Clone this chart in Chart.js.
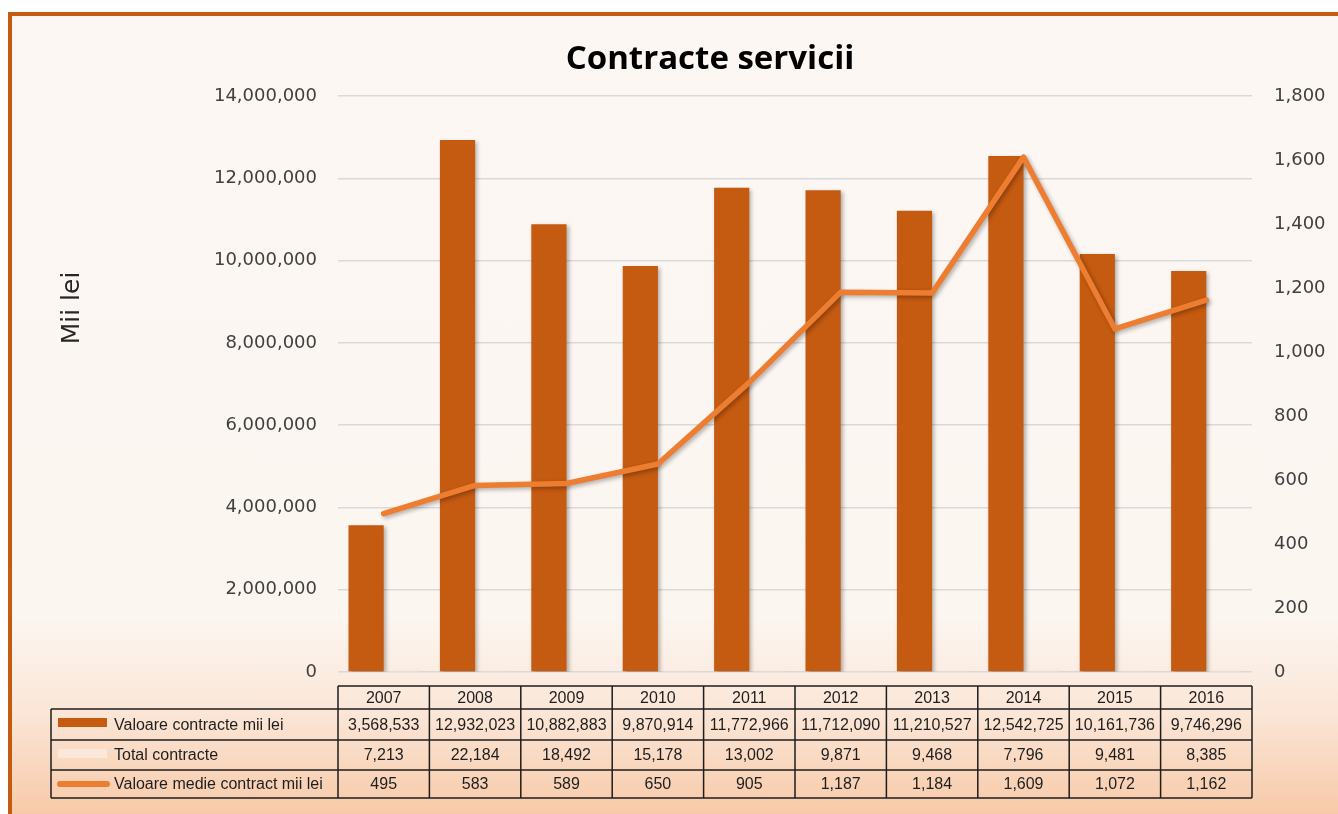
<!DOCTYPE html>
<html>
<head>
<meta charset="utf-8">
<script src="https://cdn.jsdelivr.net/npm/chart.js@4.4.0/dist/chart.umd.min.js"></script>
<style>
  html, body { margin: 0; padding: 0; width: 1338px; height: 814px; overflow: hidden; background: #fff; }
  #frame {
    position: absolute; left: 8px; top: 12px; width: 1340px; height: 810px;
    border-left: 4px solid #c55a11; border-top: 4px solid #c55a11;
    background: linear-gradient(to bottom, #fcf7f3 0%, #fcf6f1 74%, #fbe6d7 86%, #f7c6a3 100%);
  }
  #chart { position: absolute; left: 40px; top: 0; }
</style>
</head>
<body>
<div id="frame"></div>
<canvas id="chart" width="1340" height="814"></canvas>
<script>
// data
const years = ['2007', '2008', '2009', '2010', '2011', '2012', '2013', '2014', '2015', '2016'];
const valoareContracte = [3568533, 12932023, 10882883, 9870914, 11772966, 11712090, 11210527, 12542725, 10161736, 9746296];
const totalContracte = [7213, 22184, 18492, 15178, 13002, 9871, 9468, 7796, 9481, 8385];
const valoareMedie = [495, 583, 589, 650, 905, 1187, 1184, 1609, 1072, 1162];

const rowNames = ['Valoare contracte mii lei', 'Total contracte', 'Valoare medie contract mii lei'];
const axisTitle = 'Mii lei';

const fmt = v => Number(v).toLocaleString('en-US');

// soft shadow under bars and line
const shadowPlugin = {
  id: 'shadow',
  beforeDatasetDraw(chart) {
    const ctx = chart.ctx;
    ctx.save();
    ctx.shadowColor = 'rgba(0,0,0,0.3)';
    ctx.shadowBlur = 4;
    ctx.shadowOffsetX = 2;
    ctx.shadowOffsetY = 2;
  },
  afterDatasetDraw(chart) {
    chart.ctx.restore();
  }
};

// left axis title sits above the middle in the original
const axisTitlePlugin = {
  id: 'axisTitle',
  afterDraw(chart) {
    const ctx = chart.ctx;
    ctx.save();
    ctx.translate(32, 308);
    ctx.rotate(-Math.PI / 2);
    ctx.fillStyle = '#262626';
    ctx.font = '25px "DejaVu Sans", sans-serif';
    ctx.textAlign = 'center';
    ctx.textBaseline = 'middle';
    ctx.fillText(axisTitle, 0, 0);
    ctx.restore();
  }
};

// data table under the plot, columns follow the x scale
const tablePlugin = {
  id: 'dataTable',
  afterDraw(chart) {
    const ctx = chart.ctx;
    const x = chart.scales.x;
    const area = chart.chartArea;
    const colW = area.width / years.length;
    const legendLeft = 11;
    const rows = [686, 709, 740, 770, 798];
    const rowData = [valoareContracte, totalContracte, valoareMedie];

    ctx.save();
    ctx.strokeStyle = '#1e1e1e';
    ctx.lineWidth = 1.5;

    ctx.beginPath();
    ctx.moveTo(area.left, rows[0]);
    ctx.lineTo(area.right, rows[0]);
    for (let r = 1; r < rows.length; r++) {
      ctx.moveTo(legendLeft, rows[r]);
      ctx.lineTo(area.right, rows[r]);
    }
    ctx.moveTo(legendLeft, rows[1]);
    ctx.lineTo(legendLeft, rows[4]);
    for (let i = 0; i <= years.length; i++) {
      const xx = x.getPixelForValue(Math.min(i, years.length - 1)) + (i === years.length ? colW / 2 : -colW / 2);
      ctx.moveTo(xx, rows[0]);
      ctx.lineTo(xx, rows[4]);
    }
    ctx.stroke();

    ctx.fillStyle = '#1e1e1e';
    ctx.font = '16px "Liberation Sans", Arial, sans-serif';
    ctx.textBaseline = 'middle';
    ctx.textAlign = 'center';
    years.forEach((y, i) => {
      const cx = x.getPixelForValue(i);
      ctx.fillText(y, cx, (rows[0] + rows[1]) / 2 + 1);
      rowData.forEach((arr, r) => {
        ctx.fillText(fmt(arr[i]), cx, (rows[r + 1] + rows[r + 2]) / 2 + 1);
      });
    });

    // legend keys
    ctx.fillStyle = '#c55a11';
    ctx.fillRect(18, 718, 49, 9);
    ctx.fillStyle = '#fce8db';
    ctx.fillRect(18, 749, 49, 9);
    ctx.strokeStyle = '#ed7d31';
    ctx.lineWidth = 6;
    ctx.lineCap = 'round';
    ctx.beginPath();
    ctx.moveTo(20, 784);
    ctx.lineTo(67, 784);
    ctx.stroke();

    ctx.fillStyle = '#1e1e1e';
    ctx.textAlign = 'left';
    rowNames.forEach((name, r) => {
      ctx.fillText(name, 74, (rows[r + 1] + rows[r + 2]) / 2 + 1);
    });
    ctx.restore();
  }
};

const tickFont = { family: '"DejaVu Sans", sans-serif', size: 18 };

new Chart(document.getElementById('chart'), {
  type: 'bar',
  data: {
    labels: years,
    datasets: [
      {
        type: 'line',
        label: rowNames[2],
        data: valoareMedie,
        yAxisID: 'y1',
        borderColor: '#ed7d31',
        borderWidth: 5.5,
        pointRadius: 0,
        borderCapStyle: 'round',
        borderJoinStyle: 'round',
        order: 0
      },
      {
        label: rowNames[0],
        data: valoareContracte,
        yAxisID: 'y',
        backgroundColor: '#c55a11',
        categoryPercentage: 0.77,
        barPercentage: 1,
        order: 1
      },
      {
        label: rowNames[1],
        data: totalContracte,
        yAxisID: 'y',
        backgroundColor: '#fce8db',
        categoryPercentage: 0.77,
        barPercentage: 1,
        order: 2
      }
    ]
  },
  options: {
    responsive: false,
    animation: false,
    devicePixelRatio: 1,
    layout: { padding: { top: 30, bottom: 142, left: 0, right: 0 } },
    plugins: {
      legend: { display: false },
      tooltip: { enabled: false },
      title: {
        display: true,
        text: 'Contracte servicii',
        color: '#000',
        font: { family: '"Open Sans", sans-serif', size: 33, weight: 'bold' },
        padding: { top: 10, bottom: 16.4 }
      }
    },
    scales: {
      x: { display: false },
      y: {
        position: 'left',
        min: 0,
        max: 14000000,
        ticks: { stepSize: 2000000, color: '#404040', font: tickFont, padding: 21, callback: v => fmt(v) },
        grid: { color: '#d9d9d9', lineWidth: 1.5, drawTicks: false },
        border: { display: false },
        afterFit(scale) { scale.width = 298; }
      },
      y1: {
        position: 'right',
        min: 0,
        max: 1800,
        ticks: { stepSize: 200, color: '#404040', font: tickFont, padding: 22, callback: v => fmt(v) },
        grid: { display: false, drawTicks: false },
        border: { display: false },
        afterFit(scale) { scale.width = 128; }
      }
    }
  },
  plugins: [shadowPlugin, axisTitlePlugin, tablePlugin]
});
</script>
</body>
</html>
